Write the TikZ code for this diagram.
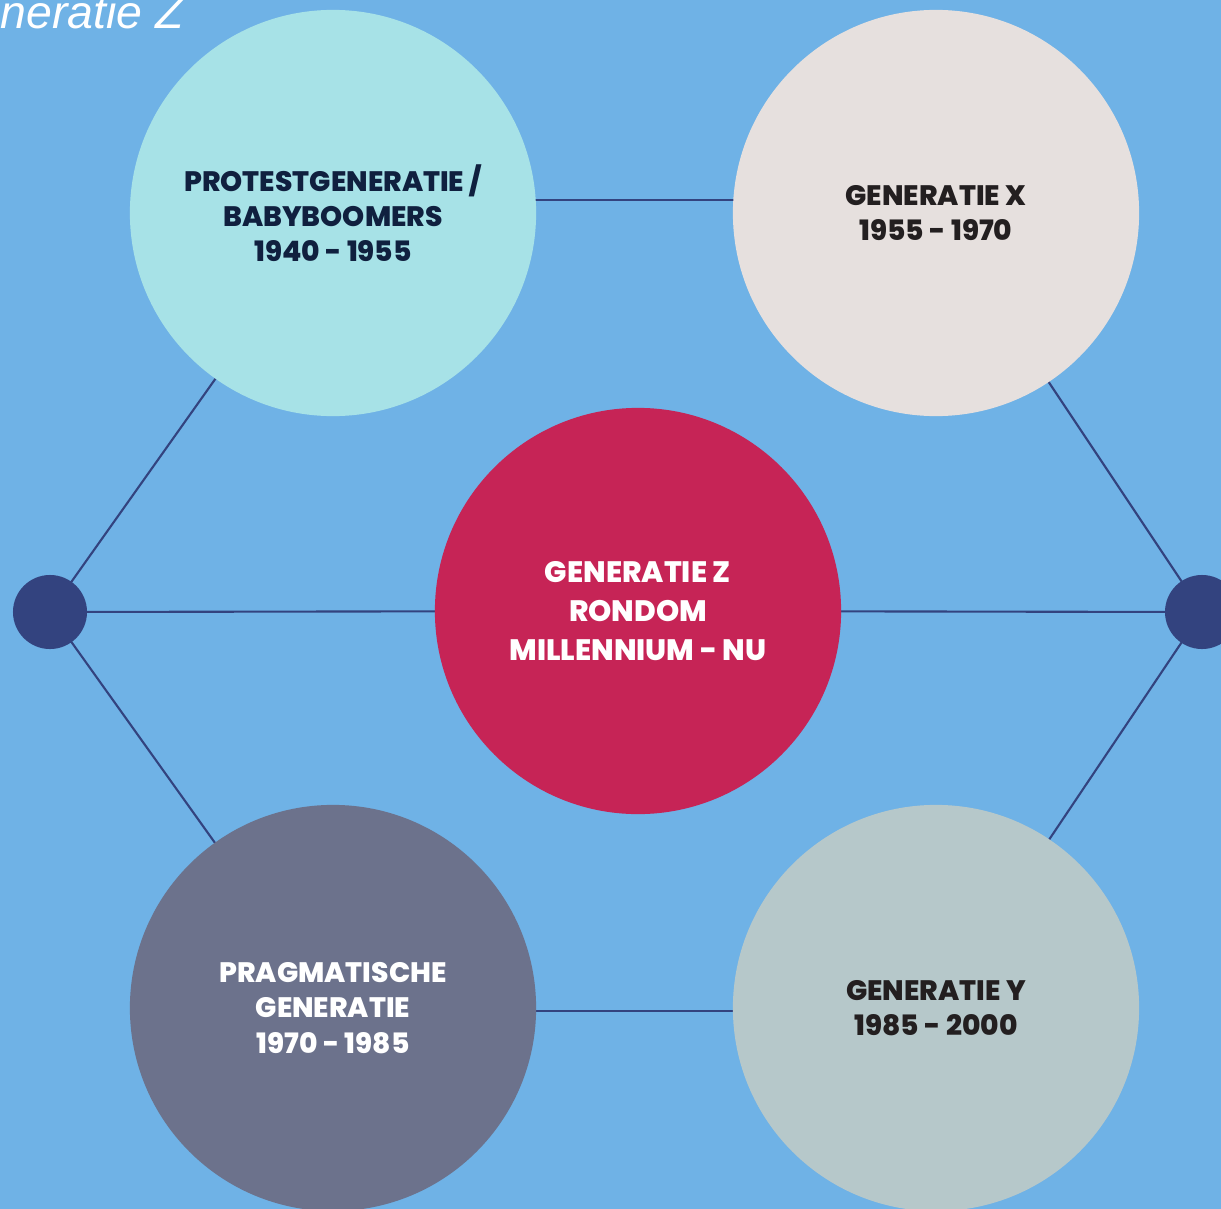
\documentclass[tikz,border=0pt]{standalone}
\usepackage{fontspec}
\setmainfont{Poppins}[BoldFont={Poppins ExtraBold}]
\newfontfamily\titlefont{Liberation Sans}
\usetikzlibrary{calc,backgrounds}

\definecolor{skyBg}{HTML}{6FB2E6}
\definecolor{navyLine}{HTML}{33437F}
\definecolor{aquaFill}{HTML}{A7E2E7}
\definecolor{sandFill}{HTML}{E6E0DE}
\definecolor{redFill}{HTML}{C62456}
\definecolor{slateFill}{HTML}{6C728C}
\definecolor{sageFill}{HTML}{B6C8CA}
\definecolor{inkDark}{HTML}{10203F}
\definecolor{inkGrey}{HTML}{231F20}

\begin{document}
\begin{tikzpicture}[x=0.01cm,y=-0.01cm,
	gen/.style={circle,minimum size=4.06cm,inner sep=0pt,align=center,
		font=\bfseries\fontsize{8}{10}\selectfont},
	hub/.style={circle,fill=navyLine,minimum size=0.74cm,inner sep=0pt},
	link/.style={navyLine,line width=0.6pt}]
	\newcommand{\topShift}{13}

	\useasboundingbox (0,0) rectangle (1221,1209);

	% title, cut off at the left
	\node (title) [anchor=base west,inner sep=0pt,white,font=\titlefont\itshape\fontsize{13.2}{15}\selectfont] at (0,28) {neratie Z};

	% generations
	\node (gTL) [gen,fill=aquaFill,text=inkDark] at (333,213) {PROTESTGENERATIE /\\BABYBOOMERS\\1940 - 1955};
	\node (gTR) [gen,fill=sandFill,text=inkGrey] at (936,213) {GENERATIE X\\1955 - 1970};
	\node (gZ) [gen,fill=redFill,text=white,font=\bfseries\fontsize{8.4}{11.1}\selectfont] at (638,611) {GENERATIE Z\\RONDOM\\MILLENNIUM - NU};
	\node (gBL) [gen,fill=slateFill,text=white] at (333,1008) {PRAGMATISCHE\\GENERATIE\\1970 - 1985};
	\node (gBR) [gen,fill=sageFill,text=inkGrey] at (936,1008) {GENERATIE Y\\1985 - 2000};

	% side dots
	\node (dotL) [hub] at (50,612) {};
	\node (dotR) [hub] at (1202,612) {};

	% connectors
	\begin{scope}[on background layer]
		\fill[skyBg] (0,0) rectangle (1221,1209);
		\draw[link] ($(gTL.center)+(0,-\topShift)$) -- ($(gTR.center)+(0,-\topShift)$);
		\draw[link] ($(gBL.center)+(0,3)$) -- ($(gBR.center)+(0,3)$);
		\draw[link] (dotL.center) -- (gZ.center) -- (dotR.center);
		\draw[link] (dotL.center) -- (gTL.center);
		\draw[link] (dotL.center) -- (gBL.center);
		\draw[link] (dotR.center) -- (gTR.center);
		\draw[link] (dotR.center) -- (gBR.center);
	\end{scope}
\end{tikzpicture}
\end{document}
